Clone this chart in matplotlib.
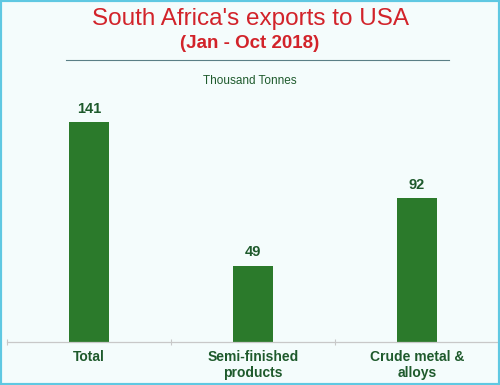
import matplotlib
matplotlib.use("Agg")
import matplotlib.pyplot as plt
from matplotlib.patches import Rectangle
from matplotlib.lines import Line2D
import numpy as np

categories = ["Total", "Semi-finished\nproducts", "Crude metal &\nalloys"]
values = [141, 49, 92]

title = "South Africa's exports to USA"
subtitle = "(Jan - Oct 2018)"
unit_label = "Thousand Tonnes"

BG = "#f4fcfc"
BAR = "#2b7a2b"
TXT_GREEN = "#1e5a2c"
RED = "#d2232a"

plt.rcParams["font.family"] = ["Liberation Sans", "DejaVu Sans"]

fig = plt.figure(figsize=(5.0, 3.85), dpi=100)
fig.patch.set_facecolor(BG)
ax = fig.add_axes([0.014, 0.1117, 0.984, 0.6545])
ax.set_facecolor("none")

x = np.arange(len(categories))
ax.bar(x, values, width=0.24, color=BAR)
for xi, v in zip(x, values):
    ax.text(xi, v + 4, f"{v}", ha="center", va="bottom", fontsize=10.5,
            fontweight="bold", color=TXT_GREEN)

ax.set_xlim(-0.5, len(categories) - 0.5)
ax.set_ylim(0, 161.5)
ax.set_yticks([])
ax.set_xticks(x)
ax.set_xticklabels(categories, fontsize=10, fontweight="bold", color=TXT_GREEN,
                   linespacing=1.15)
ax.tick_params(axis="x", length=0, pad=6)
ax.set_xticks(np.arange(len(categories) + 1) - 0.5, minor=True)
ax.tick_params(axis="x", which="minor", length=5, direction="inout",
               color="#c8c8c8", width=0.8)
for s in ["top", "right", "left"]:
    ax.spines[s].set_visible(False)
ax.spines["bottom"].set_color("#c8c8c8")
ax.spines["bottom"].set_linewidth(0.9)

fig.text(0.5, 1 - 19 / 385, title, ha="center", va="center", fontsize=17.5,
         color=RED)
fig.text(0.5, 1 - 44 / 385, subtitle, ha="center", va="center", fontsize=13.5,
         fontweight="bold", color=RED)
fig.lines.append(Line2D([66 / 500, 449 / 500], [1 - 60 / 385, 1 - 60 / 385],
                        transform=fig.transFigure, color="#5a7f86", lw=0.8))
fig.text(0.5, 1 - 81 / 385, unit_label, ha="center", va="center", fontsize=8.5,
         color=TXT_GREEN)

fig.patches.append(Rectangle((0, 0), 1, 1, transform=fig.transFigure,
                             fill=False, edgecolor="#5fc8e2", lw=3))

fig.savefig("out.png", dpi=100, facecolor=BG)
